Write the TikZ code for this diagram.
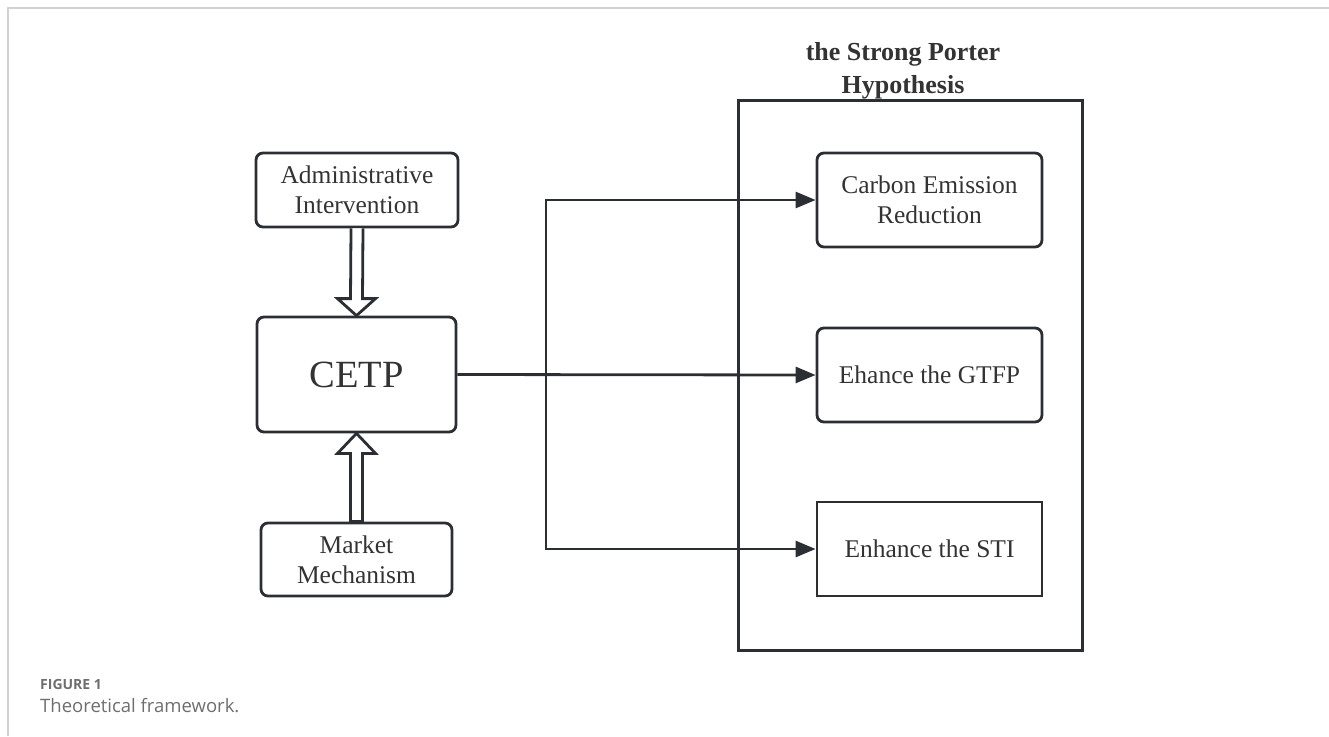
\documentclass[tikz,border=0pt]{standalone}
\usepackage{fontspec}
\setmainfont{Liberation Serif}
\newfontfamily\capfont{Open Sans}
\usetikzlibrary{calc,arrows.meta}
\definecolor{ink}{HTML}{2B2F33}
\definecolor{txt}{HTML}{333333}
\definecolor{frame}{HTML}{D2D2D2}
\definecolor{capgrey}{HTML}{6E6E6E}
\tikzset{
  rbox/.style={draw=ink, line width=2.8pt, rounded corners=7pt, text=txt,
    align=center, inner sep=0pt, font=\fontsize{25.5}{30}\selectfont},
  sbox/.style={rbox, rounded corners=0pt},
  conn/.style={draw=ink, line width=2.8pt, -{Triangle[length=20pt,width=16pt]}},
  hollow/.style={draw=ink, line width=2.8pt, fill=white, line join=miter},
}
\begin{document}
\begin{tikzpicture}[x=1pt,y=-1pt]
\useasboundingbox (0,0) rectangle (1329,736);
% page frame
\draw[frame, line width=2pt] (7.5,736) -- (7.5,7.5) -- (1329,7.5);
% left column
\node[rbox, minimum width=202pt, minimum height=74pt] (adm) at (357,190) {Administrative\\Intervention};
\node[rbox, minimum width=199pt, minimum height=115pt, font=\fontsize{38.5}{40}\selectfont] (cetp) at (356.5,374.5) {CETP};
\node[rbox, minimum width=191pt, minimum height=73pt] (mkt) at (356.5,559.5) {Market\\Mechanism};
% hollow arrows
\draw[hollow] ($(adm.south)+(-6,0)$) -- ($(cetp.north)+(-6,-17)$) -- ($(cetp.north)+(-19,-17)$) -- (cetp.north)
  -- ($(cetp.north)+(19,-17)$) -- ($(cetp.north)+(6,-17)$) -- ($(adm.south)+(6,0)$);
\draw[hollow] ($(mkt.north)+(-6,0)$) -- ($(cetp.south)+(-6,20)$) -- ($(cetp.south)+(-19,20)$) -- (cetp.south)
  -- ($(cetp.south)+(19,20)$) -- ($(cetp.south)+(6,20)$) -- ($(mkt.north)+(6,0)$) -- cycle;
% right group
\node[sbox, line width=3pt, minimum width=344pt, minimum height=550pt] (grp) at (910,375) {};
\node[text=txt, align=center, font=\bfseries\fontsize{26}{33}\selectfont, anchor=south] (ttl) at ($(grp.north)+(-7,4)$) {the Strong Porter\\Hypothesis};
\node[rbox, minimum width=225pt, minimum height=94pt] (cer) at (929.5,200) {Carbon Emission\\Reduction};
\node[rbox, minimum width=225pt, minimum height=94pt] (gtfp) at (929.5,375) {Ehance the GTFP};
\node[sbox, minimum width=225pt, minimum height=94pt] (sti) at (929.5,549) {Enhance the STI};
% connectors
\coordinate (j) at (546,375);
\draw[conn] (cetp.east) -- (gtfp.west);
\draw[conn] (j) |- (cer.west);
\draw[conn] (j) |- (sti.west);
% caption
\node[anchor=base west, inner sep=0pt, text=capgrey, font=\capfont\bfseries\fontsize{14}{16}\selectfont] (fig) at (40,689) {FIGURE 1};
\node[anchor=base west, inner sep=0pt, text=capgrey, font=\capfont\fontsize{18.5}{20}\selectfont] (cap) at (40,712) {Theoretical framework.};
\end{tikzpicture}
\end{document}
